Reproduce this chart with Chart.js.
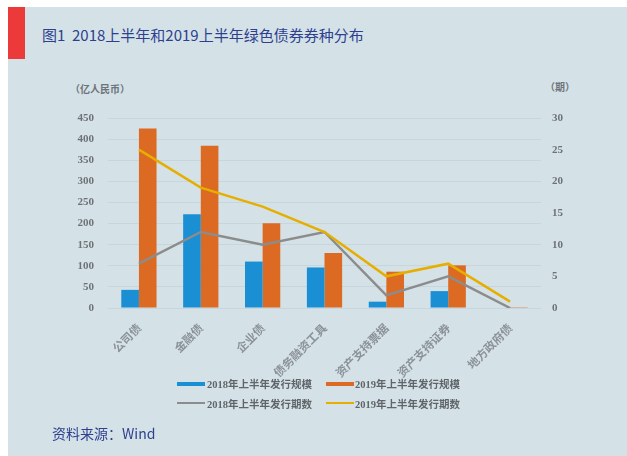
<!DOCTYPE html>
<html lang="zh">
<head>
<meta charset="UTF-8">
<title>绿色债券券种分布</title>
<script src="https://cdn.jsdelivr.net/npm/chart.js"></script>
<style>
  html, body { margin: 0; padding: 0; background: #fff; }
  #page { position: relative; width: 627px; height: 456px; overflow: hidden; }
  #panel { position: absolute; left: 8px; top: 7px; right: 0; bottom: 0; background: #d4e2e8; }
  #redbar { position: absolute; left: 8px; top: 7px; width: 17px; height: 52px; background: #ec3a3a; }
  #title { position: absolute; left: 42px; top: 24px; font: 15px "Noto Sans CJK SC", sans-serif; color: #2e3f8e; white-space: nowrap; }
  #source { position: absolute; left: 52px; top: 423px; font: 14px "Noto Sans CJK SC", sans-serif; color: #2e3f8e; white-space: nowrap; }
  .unit { position: absolute; font: bold 10px "Noto Sans CJK SC", sans-serif; color: #6e7478; white-space: nowrap; }
  .lg { position: absolute; font: bold 10.5px "Liberation Serif", "Noto Sans CJK SC", serif; color: #5f6569; white-space: nowrap; }
  .sw { position: absolute; height: 4px; }
  canvas { position: absolute; left: 0; top: 0; }
</style>
</head>
<body>
<div id="page">
  <div id="panel"></div>
  <div id="redbar"></div>
  <div id="title">图1&nbsp; 2018上半年和2019上半年绿色债券券种分布</div>
  <div class="unit" style="left:70px; top:81px;">（亿人民币）</div>
  <div class="unit" style="left:545px; top:79px;">（期）</div>
  <canvas id="myChart" width="627" height="456"></canvas>

  <div class="sw" style="left:177px; top:382px; width:28px; background:#1a8fd4;"></div>
  <div class="lg" style="left:207px; top:376px;">2018年上半年发行规模</div>
  <div class="sw" style="left:326px; top:382px; width:28px; background:#dc6a23;"></div>
  <div class="lg" style="left:355px; top:376px;">2019年上半年发行规模</div>
  <div class="sw" style="left:177px; top:402px; width:28px; height:2px; background:#8c8c8c;"></div>
  <div class="lg" style="left:207px; top:396px;">2018年上半年发行期数</div>
  <div class="sw" style="left:326px; top:402px; width:28px; height:2px; background:#e6ae00;"></div>
  <div class="lg" style="left:355px; top:396px;">2019年上半年发行期数</div>

  <div id="source">资料来源：Wind</div>
</div>

<script>
// 券种
const categories = ['公司债', '金融债', '企业债', '债务融资工具', '资产支持票据', '资产支持证券', '地方政府债'];
// 发行规模（亿人民币）
const scale2018 = [43, 222, 110, 96, 15, 40, 0];
const scale2019 = [425, 384, 201, 130, 86, 101, 2];
// 发行期数（期）
const count2018 = [7, 12, 10, 12, 2, 5, 0];
const count2019 = [25, 19, 16, 12, 5, 7, 1];

const ctx = document.getElementById('myChart').getContext('2d');
const myChart = new Chart(ctx, {
    type: 'bar',
    data: {
        labels: categories,
        datasets: [
            { type: 'line', label: '2019年上半年发行期数', data: count2019, yAxisID: 'y1',
              borderColor: '#e6ae00', borderWidth: 2.5, pointRadius: 0, tension: 0, order: 0 },
            { type: 'line', label: '2018年上半年发行期数', data: count2018, yAxisID: 'y1',
              borderColor: '#8c8c8c', borderWidth: 2.5, pointRadius: 0, tension: 0, order: 1 },
            { label: '2018年上半年发行规模', data: scale2018, yAxisID: 'y',
              backgroundColor: '#1a8fd4', order: 2 },
            { label: '2019年上半年发行规模', data: scale2019, yAxisID: 'y',
              backgroundColor: '#dc6a23', order: 2 }
        ]
    },
    options: {
        responsive: false,
        animation: false,
        devicePixelRatio: 1,
        categoryPercentage: 0.57,
        barPercentage: 1.0,
        layout: { padding: { left: 0, right: 0, top: 118, bottom: 0 } },
        plugins: { legend: { display: false }, tooltip: { enabled: false } },
        scales: {
            x: {
                grid: { display: false },
                border: { display: false },
                afterFit: s => { s.height = 148; },
                ticks: {
                    autoSkip: false, minRotation: 45, maxRotation: 45, padding: 5,
                    color: '#8b9297',
                    font: { family: '"Noto Sans CJK SC"', size: 11.5, weight: 'bold' }
                }
            },
            y: {
                position: 'left',
                min: 0, max: 450,
                afterFit: s => { s.width = 108; },
                grid: { color: 'rgba(130,150,160,0.16)', drawTicks: false },
                border: { display: false },
                ticks: {
                    stepSize: 50, padding: 14, color: '#6e7276',
                    font: { family: '"Liberation Serif"', size: 11, weight: 'bold' }
                }
            },
            y1: {
                position: 'right',
                min: 0, max: 30,
                afterFit: s => { s.width = 86; },
                grid: { display: false, drawTicks: false },
                border: { display: false },
                ticks: {
                    stepSize: 5, padding: 11, color: '#6e7276',
                    font: { family: '"Liberation Serif"', size: 11, weight: 'bold' }
                }
            }
        }
    }
});
</script>
</body>
</html>
